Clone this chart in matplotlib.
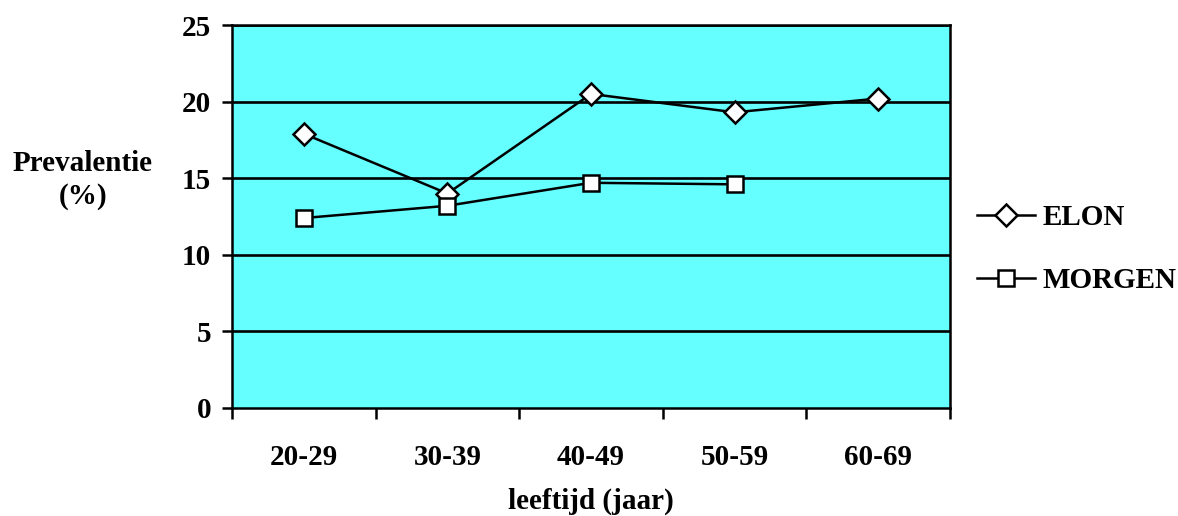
import matplotlib
matplotlib.use("Agg")
import matplotlib.pyplot as plt
import numpy as np

# Age groups and prevalence (%) per study
age_groups = ["20-29", "30-39", "40-49", "50-59", "60-69"]
elon = [17.9, 14.0, 20.5, 19.3, 20.2]
morgen = [12.4, 13.2, 14.7, 14.6]
y_ticks = [0, 5, 10, 15, 20, 25]

plt.rcParams["font.family"] = ["Liberation Serif", "DejaVu Serif"]
plt.rcParams["font.weight"] = "bold"

fig = plt.figure(figsize=(11.78, 5.16), dpi=100)
ax = fig.add_axes([232 / 1178, 108 / 516, 718 / 1178, 383 / 516])
ax.set_facecolor("#66FFFF")

x = np.arange(len(age_groups))
ax.set_xlim(-0.5, len(age_groups) - 0.5)
ax.set_ylim(0, 25)

for yv in y_ticks[1:]:
    ax.axhline(yv, color="black", lw=1.9, zorder=1)

ax.plot(x[:len(elon)], elon, color="black", lw=1.8, marker="D", ms=11,
        mfc="white", mec="black", mew=1.8, label="ELON", zorder=3)
ax.plot(x[:len(morgen)], morgen, color="black", lw=1.8, marker="s", ms=12,
        mfc="white", mec="black", mew=1.8, label="MORGEN", zorder=3)

ax.set_yticks(y_ticks)
ax.set_yticklabels([str(v) for v in y_ticks], fontsize=21, fontweight="bold")
ax.tick_params(axis="y", direction="out", length=7, width=1.8, pad=8)

ax.set_xticks(x)
ax.set_xticklabels(age_groups, fontsize=21, fontweight="bold")
ax.tick_params(axis="x", which="major", length=0, pad=26)
ax.set_xticks(np.arange(-0.5, len(age_groups), 1.0), minor=True)
ax.tick_params(axis="x", which="minor", direction="out", length=8, width=1.8)

for s in ax.spines.values():
    s.set_linewidth(1.8)
    s.set_color("black")

ax.set_xlabel("leeftijd (jaar)", fontsize=21, fontweight="bold", labelpad=12)
fig.text(83 / 1178, 1 - 180 / 516, "Prevalentie\n(%)", fontsize=21,
         fontweight="bold", ha="center", va="center", linespacing=1.3)

fig.legend(loc="center left", bbox_to_anchor=(965 / 1178, 1 - 249 / 516),
           frameon=False, fontsize=21, handlelength=2.0, handletextpad=0.25,
           labelspacing=1.25, borderaxespad=0)

fig.savefig("out.png", dpi=100, facecolor="white")
